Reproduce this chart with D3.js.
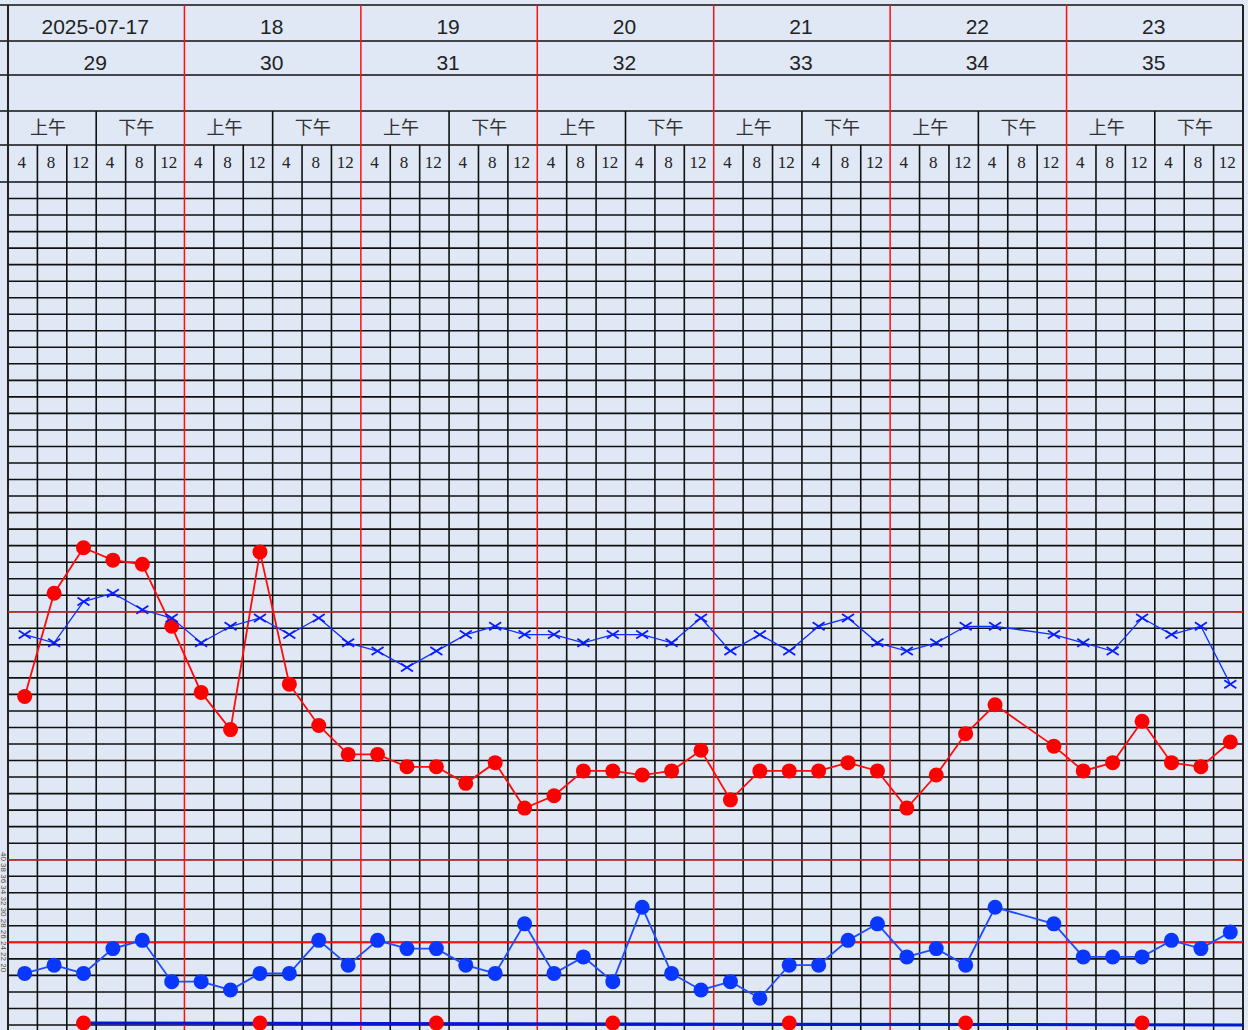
<!DOCTYPE html>
<html lang="zh">
<head>
<meta charset="utf-8">
<title>体温单</title>
<script src="https://d3js.org/d3.v7.min.js"></script>
<style>
  body { margin: 0; background: #dfe8f4; overflow: hidden; }
  svg { display: block; }
</style>
</head>
<body>
<svg id="chart" width="1248" height="1030"></svg>
<script>
// header texts
var dates = ["2025-07-17", "18", "19", "20", "21", "22", "23"];
var hospitalDays = ["29", "30", "31", "32", "33", "34", "35"];
var halves = ["上午", "下午"];
var hours = ["4", "8", "12", "4", "8", "12"];

// one value per 4-hour slot, 42 slots, null = not measured
var temperature = [36.7, 36.6, 37.1, 37.2, 37.0, 36.9,
                   36.6, 36.8, 36.9, 36.7, 36.9, 36.6,
                   36.5, 36.3, 36.5, 36.7, 36.8, 36.7,
                   36.7, 36.6, 36.7, 36.7, 36.6, 36.9,
                   36.5, 36.7, 36.5, 36.8, 36.9, 36.6,
                   36.5, 36.6, 36.8, 36.8, null, 36.7,
                   36.6, 36.5, 36.9, 36.7, 36.8, 36.1];
var pulse = [79, 104, 115, 112, 111, 96,
             80, 71, 114, 82, 72, 65,
             65, 62, 62, 58, 63, 52,
             55, 61, 61, 60, 61, 66,
             54, 61, 61, 61, 63, 61,
             52, 60, 70, 77, null, 67,
             61, 63, 73, 63, 62, 68];
var respiration = [16, 17, 16, 19, 20, 15,
                   15, 14, 16, 16, 20, 17,
                   20, 19, 19, 17, 16, 22,
                   16, 18, 15, 24, 16, 14,
                   15, 13, 17, 17, 20, 22,
                   18, 19, 17, 24, null, 22,
                   18, 18, 18, 20, 19, 21];
// pain score, recorded at the noon slot of each day
var painSlots = [2, 8, 14, 20, 26, 32, 38];
var painScore = [0, 0, 0, 0, 0, 0, 0];

var W = 1248, H = 1030;
var left = 8, right = 1243;
var headerLines = [5, 41, 75, 111, 145];
var svg = d3.select("#chart");

var slots = d3.range(dates.length * hours.length);
var x = d3.scaleBand().domain(slots).range([left, right]);
var day = d3.scaleBand().domain(d3.range(dates.length)).range([left, right]);
var half = d3.scaleBand().domain(d3.range(dates.length * 2)).range([left, right]);
var row = d3.scaleLinear().domain([0, 51]).range([182, 1025]);
var tempY = d3.scaleLinear().domain([37, 42]).range([row(26), row(1)]);
var pulseY = d3.scaleLinear().domain([100, 200]).range([row(26), row(1)]);
var respY = d3.scaleLinear().domain([20, 30]).range([row(46), row(41)]);
var painY = d3.scaleLinear().domain([0, 10]).range([row(51), row(41)]);

// marker nudge seen in the original
var dx = 2, dy = -2;
function cx(i) { return x(i) + x.bandwidth() / 2 + dx; }

// left strip text (narrow column)
svg.append("text")
    .attr("transform", "translate(1,852) rotate(90)")
    .style("font", "8px 'Liberation Sans'")
    .attr("fill", "#5a4a3a")
    .text("40   38   36   34   32   30   28   26   24   22   20");

// grid rows
var grid = svg.append("g");
grid.selectAll(".hrow").data(d3.range(1, 53)).enter().append("line")
    .attr("x1", left).attr("x2", right)
    .attr("y1", d => row(d)).attr("y2", d => row(d))
    .attr("stroke", "#111").attr("stroke-width", 1.6);

// header horizontal lines + top of grid
grid.selectAll(".hhead").data(headerLines.concat([row(0)])).enter().append("line")
    .attr("x1", 0).attr("x2", right)
    .attr("y1", d => d).attr("y2", d => d)
    .attr("stroke", "#111").attr("stroke-width", 1.6);

// slot and half-day verticals
grid.selectAll(".vslot").data(slots.filter(i => i % 6 != 0)).enter().append("line")
    .attr("x1", d => x(d)).attr("x2", d => x(d))
    .attr("y1", d => d % 3 == 0 ? headerLines[3] : headerLines[4])
    .attr("y2", H)
    .attr("stroke", "#111").attr("stroke-width", 1.6);

// borders
grid.selectAll(".border").data([left, right]).enter().append("line")
    .attr("x1", d => d).attr("x2", d => d)
    .attr("y1", headerLines[0]).attr("y2", H)
    .attr("stroke", "#222").attr("stroke-width", 2);

// red reference rows and day separators
grid.selectAll(".rrow").data([26, 41, 46]).enter().append("line")
    .attr("x1", left).attr("x2", right)
    .attr("y1", d => row(d)).attr("y2", d => row(d))
    .attr("stroke", "#ff1010").attr("stroke-width", 1.5);
grid.selectAll(".rday").data(d3.range(1, dates.length)).enter().append("line")
    .attr("x1", d => day(d)).attr("x2", d => day(d))
    .attr("y1", headerLines[0]).attr("y2", H)
    .attr("stroke", "#ff1010").attr("stroke-width", 1.5);

// header text
var head = svg.append("g").attr("text-anchor", "middle").attr("fill", "#222");
head.selectAll(".date").data(dates).enter().append("text")
    .attr("x", (d, i) => day(i) + day.bandwidth() / 2 - 1).attr("y", 34)
    .style("font", "21px 'Liberation Sans'").text(d => d);
head.selectAll(".hday").data(hospitalDays).enter().append("text")
    .attr("x", (d, i) => day(i) + day.bandwidth() / 2 - 1).attr("y", 70)
    .style("font", "21px 'Liberation Sans'").text(d => d);
head.selectAll(".half").data(d3.range(dates.length * 2)).enter().append("text")
    .attr("x", d => half(d) + half.bandwidth() / 2 - 4).attr("y", 134)
    .style("font", "18px 'Noto Sans CJK SC'").attr("fill", "#333")
    .text(d => halves[d % 2]);
head.selectAll(".hour").data(slots).enter().append("text")
    .attr("x", d => x(d) + x.bandwidth() / 2 - 1).attr("y", 168)
    .style("font", "17px 'Liberation Serif'")
    .text(d => hours[d % 6]);

// series
function plot(values, yScale) {
  return slots.filter(i => values[i] != null).map(i => [cx(i), yScale(values[i]) + dy]);
}
var line = d3.line();

var tempPts = plot(temperature, tempY);
var pulsePts = plot(pulse, pulseY);
var respPts = plot(respiration, respY);
var painPts = painSlots.map((s, k) => [cx(s), painY(painScore[k]) + dy]);

// pain baseline
svg.append("path")
    .attr("d", line([painPts[0], [right, painPts[0][1] + 2]]))
    .attr("stroke", "#0018d0").attr("stroke-width", 3).attr("fill", "none");
svg.selectAll(".pain").data(painPts).enter().append("circle")
    .attr("cx", d => d[0]).attr("cy", d => d[1]).attr("r", 7.5)
    .attr("fill", "#ff0000");

// respiration
svg.append("path").attr("d", line(respPts))
    .attr("stroke", "#1f4cff").attr("stroke-width", 1.8).attr("fill", "none");
svg.selectAll(".resp").data(respPts).enter().append("circle")
    .attr("cx", d => d[0]).attr("cy", d => d[1]).attr("r", 7.5)
    .attr("fill", "#0a37ff");

// pulse
svg.append("path").attr("d", line(pulsePts))
    .attr("stroke", "#ff0a0a").attr("stroke-width", 1.8).attr("fill", "none");
svg.selectAll(".pulse").data(pulsePts).enter().append("circle")
    .attr("cx", d => d[0]).attr("cy", d => d[1]).attr("r", 7.5)
    .attr("fill", "#ff0000");

// temperature
svg.append("path").attr("d", line(tempPts))
    .attr("stroke", "#1030ff").attr("stroke-width", 1.3).attr("fill", "none");
svg.selectAll(".temp").data(tempPts).enter().append("path")
    .attr("transform", d => "translate(" + d[0] + "," + d[1] + ")")
    .attr("d", "M-6,-4L6,4M-6,4L6,-4")
    .attr("stroke", "#0a1cff").attr("stroke-width", 1.8).attr("fill", "none");
</script>
</body>
</html>
